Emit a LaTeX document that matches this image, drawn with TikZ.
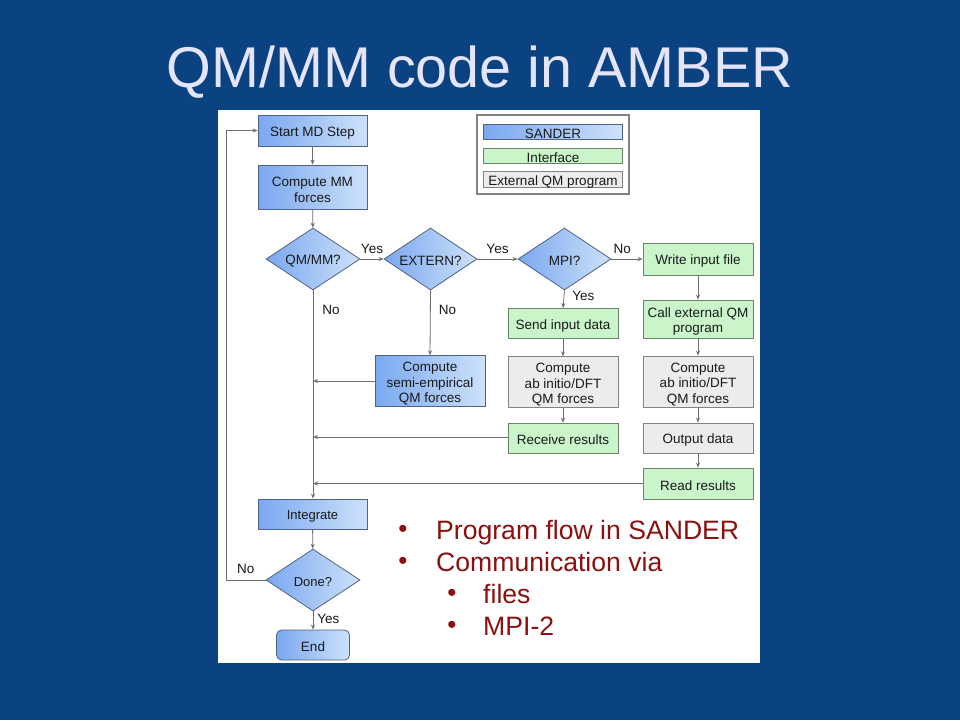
\documentclass[tikz,border=0pt]{standalone}
\usepackage{fontspec}
\setmainfont{Liberation Sans}
\usetikzlibrary{shapes.geometric,arrows.meta}
\definecolor{bgblue}{RGB}{10,66,130}
\definecolor{titlecol}{RGB}{228,228,250}
\definecolor{bluedark}{RGB}{122,168,240}
\definecolor{bluelight}{RGB}{205,225,250}
\definecolor{blueedge}{RGB}{80,100,130}
\definecolor{greenfill}{RGB}{202,245,202}
\definecolor{greenedge}{RGB}{110,130,110}
\definecolor{grayfill}{RGB}{236,236,236}
\definecolor{grayedge}{RGB}{130,130,130}
\definecolor{linecol}{RGB}{110,110,110}
\definecolor{bulletred}{RGB}{140,16,16}
\newcommand{\tpstrut}{\rule{0pt}{13.8pt}}
\newcommand{\mst}{\rule{0pt}{15pt}}
\tikzset{
  every node/.style={font=\fontsize{13.5}{15.5}\selectfont, text=black!90},
  boxbase/.style={line width=0.8pt, align=center, inner sep=1pt, execute at begin node=\tpstrut},
  sbox/.style={boxbase, draw=blueedge, left color=bluedark, right color=bluelight, minimum width=109pt},
  gbox/.style={boxbase, draw=greenedge, fill=greenfill, minimum width=110pt},
  xbox/.style={boxbase, draw=grayedge, fill=grayfill, minimum width=110pt},
  dec/.style={diamond, draw=blueedge, line width=0.8pt, left color=bluedark, right color=bluelight, minimum width=94pt, minimum height=62pt, inner sep=0pt, aspect=1.5, execute at begin node=\tpstrut},
  conn/.style={draw=linecol, line width=0.8pt, -{Stealth[length=5pt,width=4pt]}},
  lbl/.style={font=\fontsize{13.5}{15}\selectfont, inner sep=0pt},
  bul/.style={font=\fontsize{26.6}{30}\selectfont, text=bulletred, anchor=base west, inner sep=0pt},
  bdot/.style={font=\fontsize{26}{28}\selectfont, text=bulletred, inner sep=0pt},
}
\begin{document}
\begin{tikzpicture}[x=1pt,y=-1pt]
\fill[bgblue] (0,0) rectangle (960,720);
\useasboundingbox (0,0) rectangle (960,720);
% title
\node[font=\fontsize{57.5}{60}\selectfont, text=titlecol, anchor=base, inner sep=0pt] (title) at (480,87) {QM/MM code in AMBER};
% panel
\fill[white] (218,110) rectangle (760,663);
% legend
\node[draw=grayedge, line width=1.2pt, fill=white, minimum width=152pt, minimum height=79pt, inner sep=0pt] (legend) at (553,154.5) {};
\node[sbox, minimum width=139pt, minimum height=15.5pt, inner sep=0pt] (lsander) at (553,132) {SANDER};
\node[gbox, minimum width=139pt, minimum height=15.5pt, inner sep=0pt] (linterf) at (553,156) {Interface};
\node[xbox, minimum width=139pt, minimum height=15.5pt, inner sep=0pt] (lext) at (553,179.5) {External QM program};
% flow nodes
\node[sbox, minimum height=31pt] (start) at (312.5,130.5) {Start MD Step};
\node[sbox, minimum height=44pt] (mm) at (312.5,187) {\mst Compute MM\\forces};
\node[dec] (qmmm) at (313,259) {QM/MM?};
\node[dec, minimum width=93pt] (extern) at (430.5,259) {EXTERN?};
\node[dec, minimum width=93pt] (mpi) at (564.5,259) {MPI?};
\node[gbox, minimum height=32pt] (write) at (698,259) {Write input file};
\node[gbox, minimum height=38pt] (call) at (698,319) {\mst Call external QM\\program};
\node[gbox, minimum height=30pt] (send) at (563,323.5) {Send input data};
\node[sbox, minimum width=110pt, minimum height=50pt] (semi) at (430,381) {\mst Compute\\semi-empirical\\QM forces};
\node[xbox, minimum height=50pt] (abl) at (563,382) {\mst Compute\\ab initio/DFT\\QM forces};
\node[xbox, minimum height=51pt] (abr) at (698,381.5) {\mst Compute\\ab initio/DFT\\QM forces};
\node[gbox, minimum height=30pt] (recv) at (563,438) {Receive results};
\node[xbox, minimum height=30pt] (outd) at (698,438) {Output data};
\node[gbox, minimum height=31pt] (read) at (698,483.5) {Read results};
\node[sbox, minimum height=30pt, font=\fontsize{13}{15}\selectfont] (integ) at (312.5,514) {Integrate};
\node[dec, font=\fontsize{13}{15}\selectfont] (done) at (313,580) {Done?};
\node[sbox, rounded corners=5pt, minimum width=73pt, minimum height=30pt] (endn) at (313,645) {End};
% connectors
\draw[conn] (start) -- (mm);
\draw[conn] (mm) -- (qmmm);
\draw[conn] (qmmm) -- node[lbl, above=5pt] {Yes} (extern);
\draw[conn] (extern) -- node[lbl, above=5pt] {Yes} (mpi);
\draw[conn] (mpi) -- node[lbl, above=5pt, pos=0.35] {No} (write);
\draw[conn] (mpi.south) -- node[lbl, right=8pt, pos=0.3] {Yes} (send.north);
\draw[conn] (extern.south) -- node[lbl, right=8pt, pos=0.3] {No} (semi.north);
\draw[conn] (write) -- (call);
\draw[conn] (call) -- (abr);
\draw[conn] (abr) -- (outd);
\draw[conn] (outd) -- (read);
\draw[conn] (send) -- (abl);
\draw[conn] (abl) -- (recv);
\draw[conn] (qmmm.south) -- node[lbl, right=9pt, pos=0.095] {No} (integ.north -| qmmm.south);
\draw[conn] (semi.west) -- (semi.west -| qmmm.south);
\draw[conn] ([yshift=1pt]recv.west) -- ([yshift=1pt]recv.west -| qmmm.south);
\draw[conn] (read.west) -- (read.west -| qmmm.south);
\draw[conn] (integ) -- (done);
\draw[conn] (done.south) -- node[lbl, right=4pt, pos=0.4] {Yes} (endn.north);
\coordinate (loopb) at (226,580);
\coordinate (loopt) at (226,130.5);
\draw[conn] (done.west) -- node[lbl, above=6pt, pos=0.5] {No} (loopb) -- (loopt) -- (start.west);
% bullets
\node[bdot] (b1) at (403,531.5) {•};
\node[bul] (t1) at (436,539) {Program flow in SANDER};
\node[bdot] (b2) at (403,563.5) {•};
\node[bul] (t2) at (436,571) {Communication via};
\node[bdot] (b3) at (452,595.5) {•};
\node[bul] (t3) at (483,603) {files};
\node[bdot] (b4) at (452,627.5) {•};
\node[bul] (t4) at (483,635) {MPI-2};
\end{tikzpicture}
\end{document}
